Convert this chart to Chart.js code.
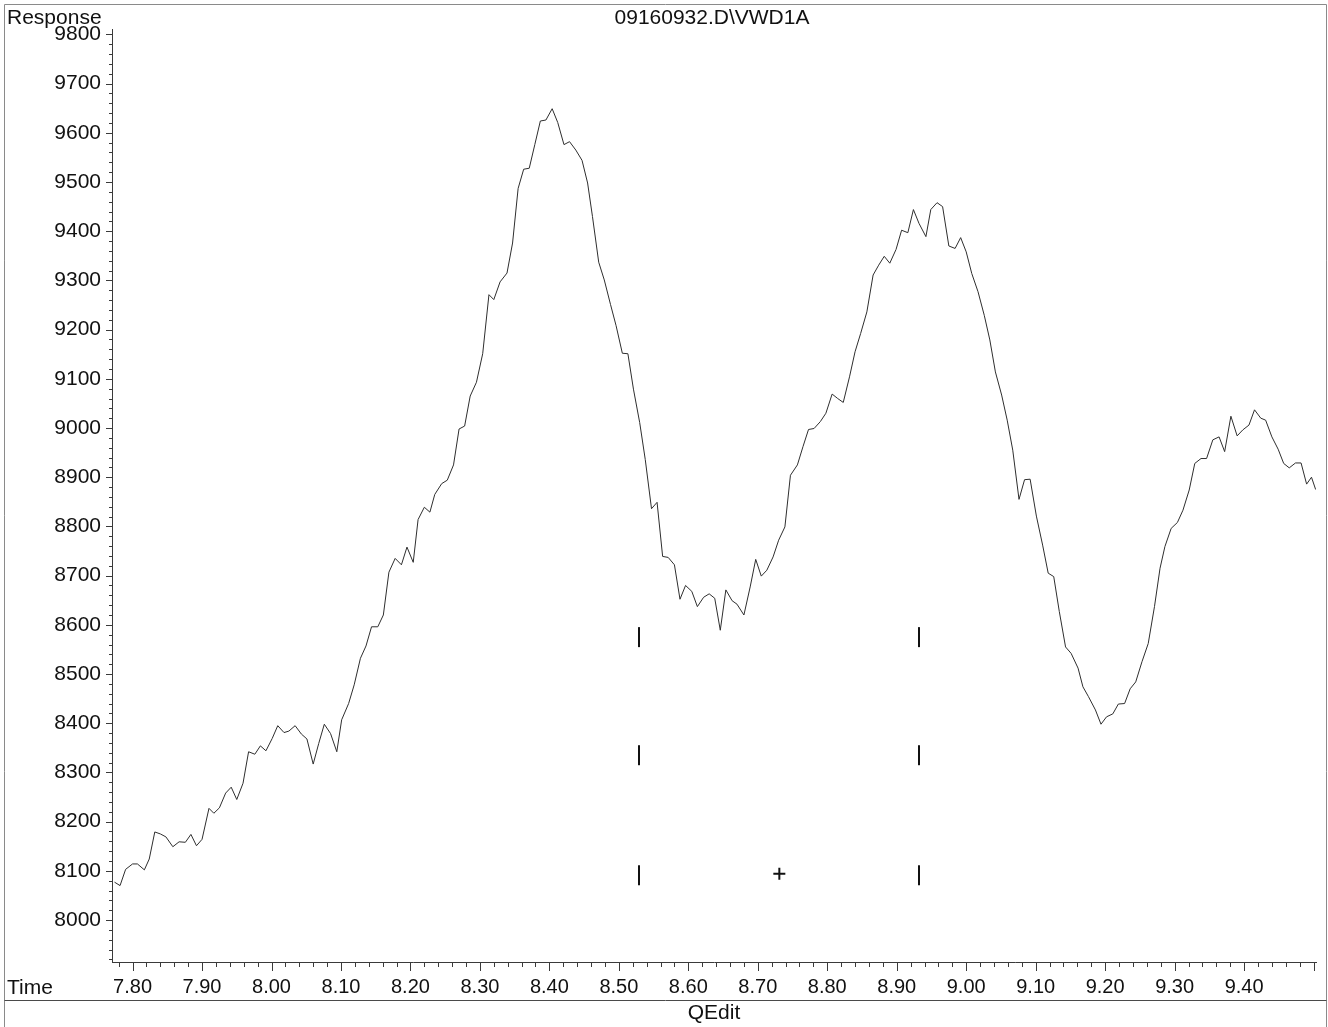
<!DOCTYPE html>
<html>
<head>
<meta charset="utf-8">
<title>09160932.D\VWD1A</title>
<script src="https://cdn.jsdelivr.net/npm/chart.js@4.4.1/dist/chart.umd.min.js"></script>
<style>
  html, body { margin: 0; padding: 0; background: #ffffff; }
  #wrap { width: 1328px; height: 1027px; position: relative; }
  canvas { display: block; }
</style>
</head>
<body>
<div id="wrap"><canvas id="chart" width="1328" height="1027"></canvas></div>
<script>
// Retention time (min) of each detector sample
const times = [
  7.774,7.782,7.790,7.800,7.807,7.817,7.824,7.832,7.840,7.848,
  7.858,7.867,7.876,7.884,7.892,7.900,7.910,7.917,7.925,7.934,
  7.942,7.950,7.959,7.967,7.976,7.984,7.992,8.001,8.009,8.018,
  8.025,8.034,8.043,8.051,8.060,8.068,8.076,8.085,8.094,8.101,
  8.111,8.119,8.128,8.136,8.144,8.153,8.161,8.169,8.178,8.187,
  8.195,8.204,
  8.211,8.220,8.228,8.235,8.245,8.253,8.262,8.270,8.278,8.286,
  8.295,8.304,8.313,8.320,8.329,8.339,8.347,8.355,8.363,8.371,
  8.379,8.387,8.395,8.404,8.412,8.421,8.429,8.438,8.447,8.455,
  8.462,8.471,8.479,8.488,8.496,8.505,8.513,8.521,8.530,8.538,
  8.547,8.555,8.563,8.571,8.580,8.588,8.596,8.605,8.613,8.622,
  8.630,8.638,8.646,
  8.654,8.663,8.670,8.680,8.689,8.697,8.705,8.713,8.722,8.730,
  8.739,8.747,8.757,8.765,8.773,8.781,8.790,8.798,8.807,8.815,
  8.823,8.832,8.840,8.848,8.857,8.866,8.874,8.882,8.890,8.899,
  8.907,8.916,8.924,8.932,8.942,8.949,8.958,8.966,8.975,8.984,
  8.992,9.000,9.008,9.017,9.026,9.034,9.042,9.051,9.059,9.067,
  9.076,9.084,9.092,
  9.101,9.110,9.118,9.126,9.134,9.143,9.151,9.161,9.168,9.176,
  9.186,9.194,9.202,9.211,9.219,9.228,9.236,9.244,9.253,9.262,
  9.271,9.279,9.286,9.295,9.304,9.312,9.321,9.329,9.338,9.346,
  9.355,9.364,9.372,9.381,9.390,9.398,9.407,9.415,9.424,9.431,
  9.440,9.449,9.457,9.465,9.474,9.482,9.490,9.497,9.503
];

// VWD1A detector response at each time
const response = [
  8077,8070,8103,8114,8114,8102,8124,8179,8175,8169,
  8149,8159,8158,8174,8151,8164,8227,8217,8228,8258,
  8270,8245,8278,8342,8337,8354,8344,8369,8395,8381,
  8384,8395,8378,8368,8317,8359,8398,8379,8342,8407,
  8440,8478,8532,8557,8596,8596,8620,8707,8735,8722,
  8758,8727,
  8814,8839,8829,8865,8887,8894,8925,8998,9004,9065,
  9093,9151,9271,9261,9297,9315,9376,9487,9526,9528,
  9576,9624,9626,9649,9621,9576,9582,9565,9544,9498,
  9430,9337,9301,9251,9208,9152,9151,9079,9011,8936,
  8836,8849,8739,8737,8722,8652,8680,8668,8637,8656,
  8663,8654,8589,
  8671,8649,8642,8620,8677,8733,8699,8711,8738,8772,
  8799,8904,8925,8962,8997,8999,9013,9030,9069,9060,
  9052,9104,9155,9192,9236,9311,9331,9349,9335,9363,
  9402,9397,9444,9416,9389,9444,9458,9450,9370,9365,
  9387,9358,9314,9277,9229,9179,9114,9067,9016,8955,
  8855,8895,8896,
  8821,8762,8705,8698,8627,8555,8542,8512,8474,8454,
  8427,8398,8413,8419,8439,8440,8470,8484,8525,8562,
  8637,8715,8759,8796,8808,8833,8874,8928,8938,8938,
  8976,8982,8952,9024,8984,8996,9006,9037,9020,9016,
  8982,8957,8928,8919,8929,8929,8886,8900,8875
];

// Axis ranges and labelled ticks
const timeRange = [7.7704, 9.5035];
const responseRange = [7914.7, 9811];
const timeTicks = [7.80,7.90,8.00,8.10,8.20,8.30,8.40,8.50,8.60,8.70,8.80,8.90,9.00,9.10,9.20,9.30,9.40];
const responseTicks = [8000,8100,8200,8300,8400,8500,8600,8700,8800,8900,9000,9100,9200,9300,9400,9500,9600,9700,9800];

// Integration event markers (baseline start/end bars) and the cursor cross
const markerTimes = [8.529, 8.932];
const markerLevels = [8575, 8335, 8091];
const cursorTime = [8.731];
const cursorLevel = [8094];

// Texts
const title = '09160932.D\\VWD1A';
const yAxisName = 'Response';
const xAxisName = 'Time';
const footer = 'QEdit';

const FONT = '"Liberation Sans", Arial, sans-serif';

const trace = times.map((t, i) => ({ x: t, y: response[i] }));
const markers = [];
markerTimes.forEach(t => markerLevels.forEach(v => markers.push({ x: t, y: v })));
const cursor = cursorTime.map((t, i) => ({ x: t, y: cursorLevel[i] }));

// Frame, header/footer text and major/minor tick marks
const decorations = {
  id: 'decorations',
  afterDraw(chart) {
    const { ctx, chartArea: a } = chart;
    const xs = chart.scales.x, ys = chart.scales.y;
    ctx.save();

    // page frame
    ctx.strokeStyle = '#8a8a8a';
    ctx.lineWidth = 1;
    ctx.beginPath();
    ctx.moveTo(4.5, 1027);
    ctx.lineTo(4.5, 4.5);
    ctx.lineTo(1326.5, 4.5);
    ctx.lineTo(1326.5, 1027);
    ctx.stroke();

    // separator above footer
    ctx.strokeStyle = '#4a4a4a';
    ctx.beginPath();
    ctx.moveTo(4.5, 1000.5);
    ctx.lineTo(1326.5, 1000.5);
    ctx.stroke();

    // tick marks: x minor every 0.02, major every 0.10
    ctx.strokeStyle = '#3a3a3a';
    ctx.beginPath();
    for (let k = Math.ceil(xs.min / 0.02 - 1e-6); k * 0.02 <= xs.max + 1e-9; k++) {
      const px = Math.round(xs.getPixelForValue(k * 0.02)) + 0.5;
      const len = (k % 5 === 0) ? 9 : 5;
      ctx.moveTo(px, a.bottom);
      ctx.lineTo(px, a.bottom + len);
    }
    // y minor every 20, major every 100
    for (let k = Math.ceil(ys.min / 20); k * 20 <= ys.max; k++) {
      const py = Math.round(ys.getPixelForValue(k * 20)) + 0.5;
      const len = (k % 5 === 0) ? 6 : 3;
      ctx.moveTo(a.left, py);
      ctx.lineTo(a.left - len, py);
    }
    ctx.stroke();

    // texts
    ctx.fillStyle = '#111111';
    ctx.font = '21px ' + FONT;
    ctx.textBaseline = 'middle';
    ctx.textAlign = 'left';
    ctx.fillText(yAxisName, 7, 18);
    ctx.fillText(xAxisName, 7, 988);
    ctx.textAlign = 'center';
    const cx = (a.left + a.right) / 2;
    ctx.fillText(title, cx - 2, 18);
    ctx.fillText(footer, cx, 1013);
    ctx.restore();
  }
};

new Chart(document.getElementById('chart'), {
  type: 'line',
  data: {
    datasets: [
      {
        data: trace,
        borderColor: '#2e2e2e',
        borderWidth: 1,
        pointRadius: 0,
        tension: 0,
        fill: false
      },
      {
        type: 'scatter',
        data: markers,
        pointStyle: 'line',
        rotation: 90,
        radius: 10,
        borderColor: '#111111',
        backgroundColor: '#111111',
        borderWidth: 2
      },
      {
        type: 'scatter',
        data: cursor,
        pointStyle: 'cross',
        radius: 6,
        borderColor: '#111111',
        borderWidth: 2
      }
    ]
  },
  options: {
    responsive: false,
    animation: false,
    devicePixelRatio: 1,
    layout: { padding: { left: 0, right: 8, top: 29, bottom: 0 } },
    plugins: {
      legend: { display: false },
      tooltip: { enabled: false },
      title: { display: false }
    },
    scales: {
      x: {
        type: 'linear',
        min: timeRange[0],
        max: timeRange[1],
        afterBuildTicks: s => { s.ticks = timeTicks.map(v => ({ value: v })); },
        afterFit: s => { s.height = 65; },
        grid: { display: true, drawOnChartArea: false, color: 'rgba(0,0,0,0)', tickLength: 9 },
        border: { display: true, color: '#3a3a3a', width: 1 },
        ticks: {
          autoSkip: false,
          maxRotation: 0,
          padding: 4,
          color: '#111111',
          font: { family: FONT, size: 20 },
          callback: v => v.toFixed(2)
        }
      },
      y: {
        type: 'linear',
        min: responseRange[0],
        max: responseRange[1],
        afterBuildTicks: s => { s.ticks = responseTicks.map(v => ({ value: v })); },
        afterFit: s => { s.width = 112; },
        grid: { display: true, drawOnChartArea: false, color: 'rgba(0,0,0,0)', tickLength: 6 },
        border: { display: true, color: '#3a3a3a', width: 1 },
        ticks: {
          autoSkip: false,
          padding: 5,
          color: '#111111',
          font: { family: FONT, size: 21 },
          callback: v => String(v)
        }
      }
    }
  },
  plugins: [decorations]
});
</script>
</body>
</html>
